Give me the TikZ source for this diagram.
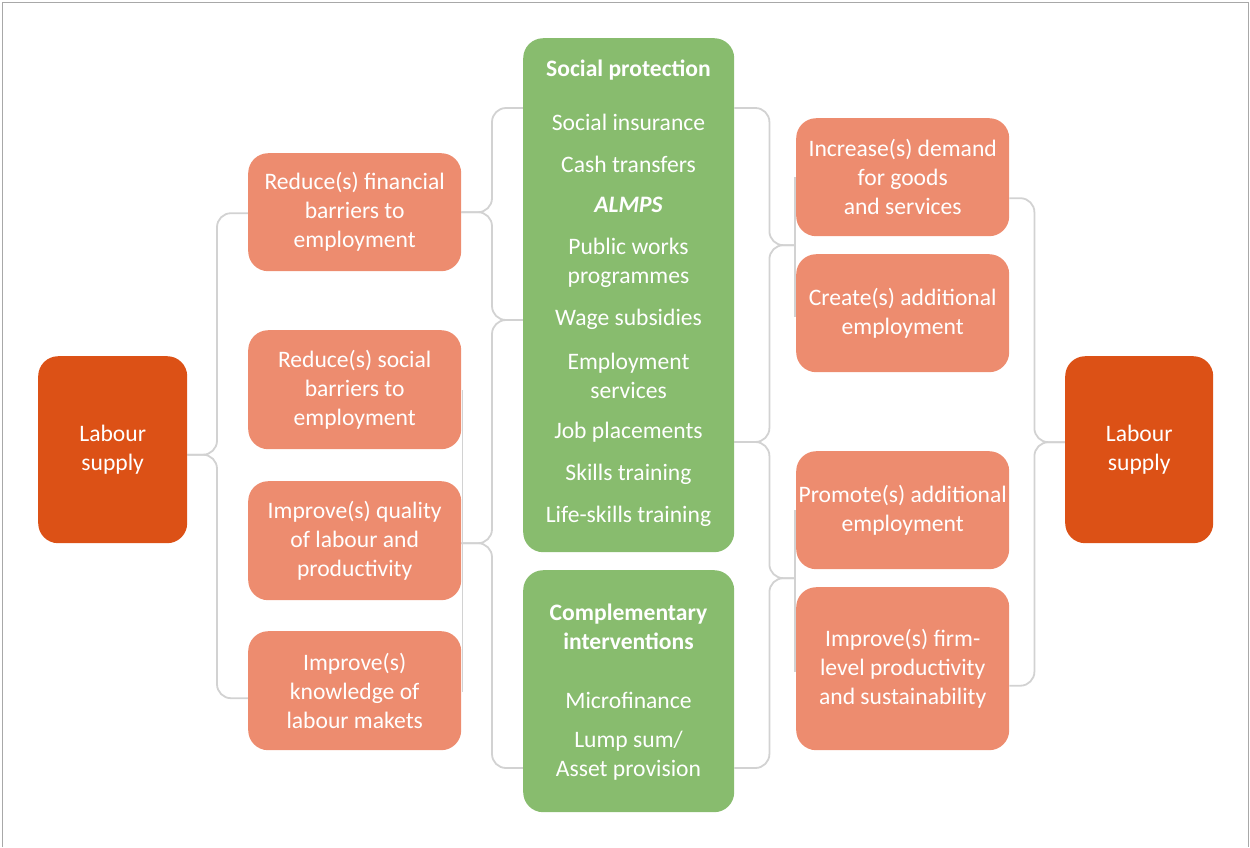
\documentclass[tikz,border=0pt]{standalone}
\usepackage{fontspec}
\setmainfont{Carlito}
\usetikzlibrary{calc,backgrounds}
\definecolor{dorange}{HTML}{DC5116}
\definecolor{salmon}{HTML}{ED8C6F}
\definecolor{pgreen}{HTML}{88BC6E}
\definecolor{lgray}{HTML}{D2D2D2}
\definecolor{fgray}{HTML}{A8A8A8}
\begin{document}
\begin{tikzpicture}[x=1pt,y=-1pt,
  txt/.style={text=white, align=center, inner sep=0pt, font=\fontsize{23.6}{29}\selectfont},
  basebox/.style={rounded corners=20pt, inner sep=0pt, anchor=north west, txt},
  dbox/.style={basebox, fill=dorange, minimum width=149pt, minimum height=187pt},
  sbox/.style={basebox, fill=salmon, minimum width=213pt, minimum height=118pt},
  gbox/.style={basebox, fill=pgreen, minimum width=211pt},
  brace/.style={draw=lgray, line width=1.8pt, rounded corners=14pt}]
\useasboundingbox (0,0) rectangle (1250,847);
\draw[fgray, line width=1.5pt] (2.5,847) -- (2.5,2.5) -- (1248.5,2.5) -- (1248.5,847);

% boxes
\node[dbox] (lsL) at (38,356) {Labour\\supply};
\node[dbox, minimum width=148pt] (lsR) at (1065,356) {Labour\\supply};

\node[sbox] (fin) at (248,153) {Reduce(s) financial\\barriers to\\employment};
\node[sbox, minimum height=119pt] (soc) at (248,330) {Reduce(s) social\\barriers to\\employment};
\node[sbox, minimum height=119pt] (qual) at (248,481) {Improve(s) quality\\of labour and\\productivity};
\node[sbox, minimum height=119pt] (kn) at (248,631) {Improve(s)\\knowledge of\\labour makets};

\node[sbox] (inc) at (796,118) {Increase(s) demand\\for goods\\and services};
\node[sbox] (cre) at (796,254) {Create(s) additional\\employment};
\node[sbox] (prom) at (796,451) {Promote(s) additional\\employment};
\node[sbox, minimum height=163pt] (firm) at (796,587) {Improve(s) firm-\\level productivity\\and sustainability};

\node[gbox, minimum height=514pt] (sp) at (523,38) {};
\node[gbox, minimum height=242pt] (ci) at (523,570) {};

% green box texts
\node[txt, font=\fontsize{23.6}{29}\selectfont\bfseries] (sp0) at (628.5,70) {Social protection};
\node[txt] (sp1) at (628.5,122) {Social insurance};
\node[txt] (sp2) at (628.5,164) {Cash transfers};
\node[txt, font=\fontsize{23.6}{29}\selectfont\bfseries\itshape] (sp3) at (628.5,205) {ALMPS};
\node[txt] (sp4) at (628.5,263) {Public works\\programmes};
\node[txt] (sp5) at (628.5,319) {Wage subsidies};
\node[txt] (sp6) at (628.5,376) {Employment\\services};
\node[txt] (sp7) at (628.5,432) {Job placements};
\node[txt] (sp8) at (628.5,474) {Skills training};
\node[txt] (sp9) at (628.5,516) {Life-skills training};

\node[txt, font=\fontsize{23.6}{29}\selectfont\bfseries] (ci0) at (628.5,627) {Complementary\\interventions};
\node[txt] (ci1) at (628.5,700) {Microfinance};
\node[txt] (ci2) at (628.5,756) {Lump sum/\\Asset provision};

% connection points
\coordinate (spL1) at ($(sp.north west)+(0,70)$);
\coordinate (spL2) at ($(sp.north west)+(0,282)$);
\coordinate (ciL) at ($(ci.north west)+(0,198)$);
\coordinate (spR1) at ($(sp.north east)+(0,70)$);
\coordinate (spR2) at ($(sp.north east)+(0,404)$);
\coordinate (ciR) at ($(ci.north east)+(0,198)$);
\coordinate (jR1) at ($(inc.south west)!0.5!(cre.north west)+(-1,0)$);
\coordinate (jR2) at ($(prom.south west)!0.5!(firm.north west)+(-1,0)$);
\coordinate (jL) at ($(lsL.east)+(0,5)$);
\coordinate (jRR) at ($(lsR.west)+(0,-7.5)$);

\begin{pgfonlayer}{background}
\draw[brace] ($(fin.west)+(0,1)$) -- ++(-31,0) |- (jL);
\draw[brace] ($(kn.west)+(0,7.5)$) -- ++(-31,0) |- (jL);

\draw[brace] (spL1) -- ++(-31,0) |- (fin.east);
\draw[brace] (spL2) -- ++(-31,0) |- (fin.east);
\draw[brace] (spL2) -- ++(-31,0) |- ($(qual.east)+(0,2.5)$);
\draw[brace] (ciL) -- ++(-31,0) |- ($(qual.east)+(0,2.5)$);

\draw[brace] (spR1) -- ++(35,0) |- (jR1);
\draw[brace] (spR2) -- ++(35,0) |- (jR1);
\draw[brace] (spR2) -- ++(35,0) |- (jR2);
\draw[brace] (ciR) -- ++(35,0) |- (jR2);

\draw[brace] ($(inc.east)+(0,21)$) -- ++(25,0) |- (jRR);
\draw[brace] ($(firm.east)+(0,17)$) -- ++(25,0) |- (jRR);

\draw[brace] ($(soc.north east)+(1,60)$) -- ($(kn.north east)+(1,61)$);
\draw[brace] ($(inc.north west)+(-1,59)$) -- ($(cre.north west)+(-1,63)$);
\draw[brace] ($(prom.north west)+(-1,59)$) -- ($(firm.north west)+(-1,85)$);
\end{pgfonlayer}
\end{tikzpicture}
\end{document}
